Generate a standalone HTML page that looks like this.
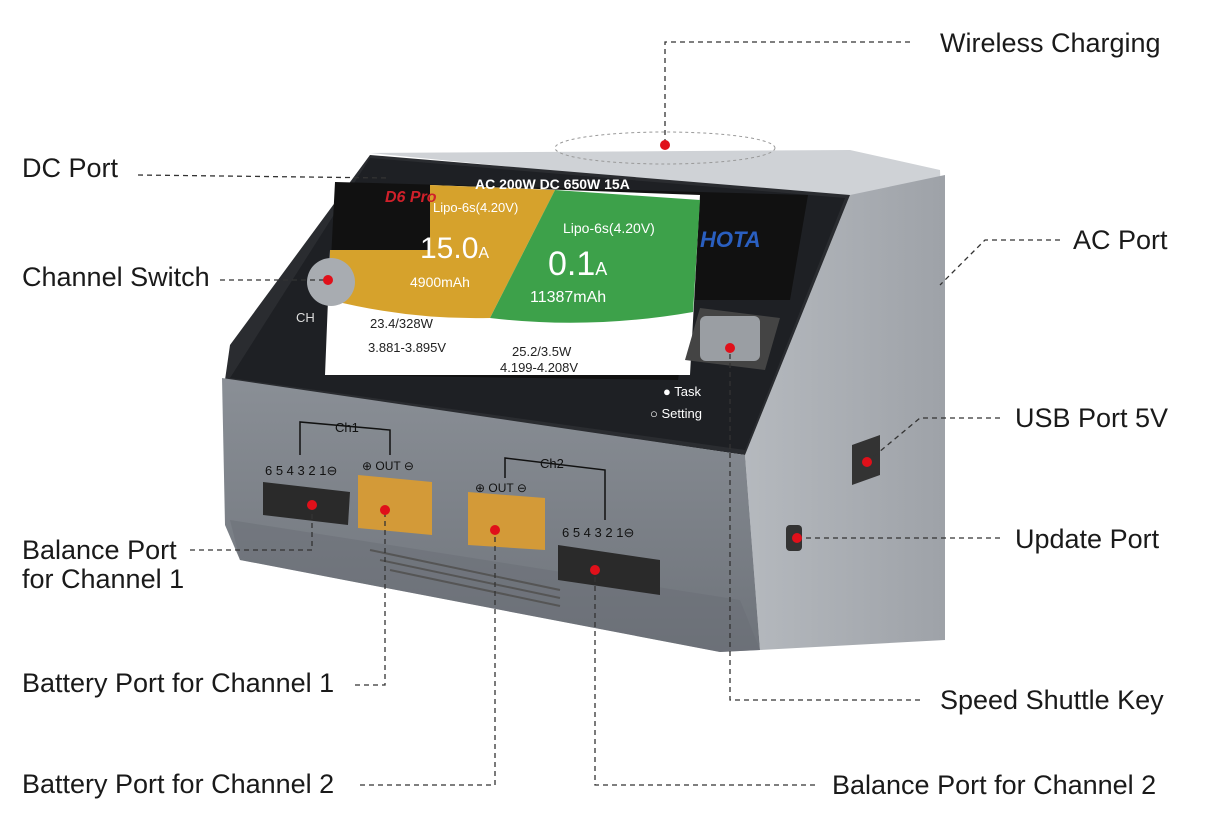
<!DOCTYPE html>
<html><head><meta charset="utf-8"><style>
html,body{margin:0;padding:0;background:#fff;}
svg{display:block;}
text{font-family:"Liberation Sans",sans-serif;}
.lbl{font-size:27px;fill:#1a1a1a;}
.d{stroke:#333;stroke-width:1.3;stroke-dasharray:5 4;fill:none;}
.dot{fill:#e0101a;}
</style></head><body>
<svg width="1215" height="824" viewBox="0 0 1215 824">
<defs>
<linearGradient id="front" x1="0" y1="0" x2="0" y2="1"><stop offset="0" stop-color="#8a8f96"/><stop offset="1" stop-color="#6e737a"/></linearGradient>
<linearGradient id="side" x1="0" y1="0" x2="1" y2="0"><stop offset="0" stop-color="#b5b9be"/><stop offset="1" stop-color="#9ea2a8"/></linearGradient>
</defs>
<!-- top surface -->
<polygon points="370,153 850,150 940,170 945,285 850,200" fill="#cfd2d6"/>
<!-- right side -->
<polygon points="850,195 945,175 945,640 760,650 745,455" fill="url(#side)"/>
<!-- dark panel -->
<polygon points="370,155 850,195 745,455 225,380 230,345" fill="#2a2c30"/>
<polygon points="370,158 845,198 745,450 230,378" fill="#1e2024"/>
<!-- screen -->
<polygon points="335,182 808,195 790,300 690,300 678,380 325,375" fill="#111"/>
<polygon points="330,250 430,250 430,185 700,195 690,375 325,375" fill="#fff"/>
<path d="M430,185 L555,190 L490,318 Q410,320 330,300 L330,250 L430,250 Z" fill="#d6a22c"/>
<path d="M555,190 L700,200 L693,312 Q590,330 490,318 Z" fill="#3da14a"/>
<text x="475" y="189" font-size="14" fill="#fff" font-weight="bold">AC 200W  DC 650W 15A</text>
<text x="385" y="202" font-size="16" fill="#d0202a" font-style="italic" font-weight="bold">D6 Pro</text>
<text x="433" y="212" font-size="13" fill="#fff">Lipo-6s(4.20V)</text>
<text x="563" y="233" font-size="14" fill="#fff">Lipo-6s(4.20V)</text>
<text x="420" y="258" font-size="30" fill="#fff">15.0<tspan font-size="16">A</tspan></text>
<text x="548" y="275" font-size="34" fill="#fff">0.1<tspan font-size="18">A</tspan></text>
<text x="410" y="287" font-size="14" fill="#fff">4900mAh</text>
<text x="530" y="302" font-size="16" fill="#fff">11387mAh</text>
<text x="700" y="247" font-size="22" fill="#2a5fc0" font-weight="bold" font-style="italic">HOTA</text>
<text x="370" y="328" font-size="13" fill="#222">23.4/328W</text>
<text x="368" y="352" font-size="13" fill="#222">3.881-3.895V</text>
<text x="512" y="356" font-size="13" fill="#222">25.2/3.5W</text>
<text x="500" y="372" font-size="13" fill="#222">4.199-4.208V</text>
<!-- channel button -->
<circle cx="331" cy="282" r="24" fill="#a8acb1"/>
<text x="296" y="322" font-size="13" fill="#ddd">CH</text>
<!-- knob -->
<polygon points="700,308 780,318 765,370 685,360" fill="#444"/>
<rect x="700" y="316" width="60" height="45" rx="6" fill="#9a9ea3"/>
<text x="663" y="396" font-size="13" fill="#fff">● Task</text>
<text x="650" y="418" font-size="13" fill="#fff">○ Setting</text>
<!-- lower front -->
<polygon points="222,378 745,455 760,650 720,652 240,560 225,525" fill="url(#front)"/>
<polygon points="240,560 720,652 760,650 740,600 230,520" fill="#6a6e75" opacity=".5"/>
<!-- vents -->
<g stroke="#555" stroke-width="2">
<line x1="370" y1="550" x2="560" y2="590"/><line x1="380" y1="560" x2="560" y2="598"/><line x1="390" y1="570" x2="560" y2="606"/>
</g>
<!-- ports -->
<polygon points="358,475 432,482 432,535 358,528" fill="#d39a38"/>
<polygon points="468,492 545,498 545,550 468,545" fill="#d39a38"/>
<polygon points="263,482 350,492 348,525 263,515" fill="#2a2a2a"/>
<polygon points="558,545 660,560 660,595 558,580" fill="#2a2a2a"/>
<text x="265" y="475" font-size="13" fill="#111">6 5 4 3 2 1⊖</text>
<text x="562" y="537" font-size="13" fill="#111">6 5 4 3 2 1⊖</text>
<text x="335" y="432" font-size="13" fill="#111">Ch1</text>
<text x="540" y="468" font-size="13" fill="#111">Ch2</text>
<text x="362" y="470" font-size="12" fill="#111">⊕ OUT ⊖</text>
<text x="475" y="492" font-size="12" fill="#111">⊕ OUT ⊖</text>
<polyline points="300,455 300,422 390,430 390,455" fill="none" stroke="#111" stroke-width="1.5"/>
<polyline points="505,478 505,458 605,470 605,520" fill="none" stroke="#111" stroke-width="1.5"/>
<!-- side ports -->
<polygon points="852,445 880,435 880,475 852,485" fill="#333"/>
<rect x="786" y="525" width="16" height="26" rx="4" fill="#333"/>
<!-- wireless ellipse -->
<ellipse cx="665" cy="148" rx="110" ry="16" fill="none" stroke="#999" stroke-dasharray="3 3"/>
<!-- leader lines -->
<polyline class="d" points="910,42 665,42 665,145"/>
<polyline class="d" points="138,175 390,178"/>
<polyline class="d" points="220,280 330,280"/>
<polyline class="d" points="1060,240 985,240 940,285"/>
<polyline class="d" points="1000,418 920,418 867,462"/>
<polyline class="d" points="190,550 312,550 312,505"/>
<polyline class="d" points="1000,538 798,538"/>
<polyline class="d" points="355,685 385,685 385,510"/>
<polyline class="d" points="920,700 730,700 730,350"/>
<polyline class="d" points="360,785 495,785 495,530"/>
<polyline class="d" points="815,785 595,785 595,570"/>
<circle class="dot" cx="665" cy="145" r="5"/>
<circle class="dot" cx="328" cy="280" r="5"/>
<circle class="dot" cx="867" cy="462" r="5"/>
<circle class="dot" cx="312" cy="505" r="5"/>
<circle class="dot" cx="385" cy="510" r="5"/>
<circle class="dot" cx="495" cy="530" r="5"/>
<circle class="dot" cx="595" cy="570" r="5"/>
<circle class="dot" cx="730" cy="348" r="5"/>
<circle class="dot" cx="797" cy="538" r="5"/>
<!-- labels -->
<text class="lbl" x="940" y="52">Wireless Charging</text>
<text class="lbl" x="22" y="177">DC Port</text>
<text class="lbl" x="22" y="286">Channel Switch</text>
<text class="lbl" x="1073" y="249">AC Port</text>
<text class="lbl" x="1015" y="427">USB Port 5V</text>
<text class="lbl" x="22" y="559">Balance Port</text>
<text class="lbl" x="22" y="588">for Channel 1</text>
<text class="lbl" x="1015" y="548">Update Port</text>
<text class="lbl" x="22" y="692">Battery Port for Channel 1</text>
<text class="lbl" x="940" y="709">Speed Shuttle Key</text>
<text class="lbl" x="22" y="793">Battery Port for Channel 2</text>
<text class="lbl" x="832" y="794">Balance Port for Channel 2</text>
</svg>
</body></html>
